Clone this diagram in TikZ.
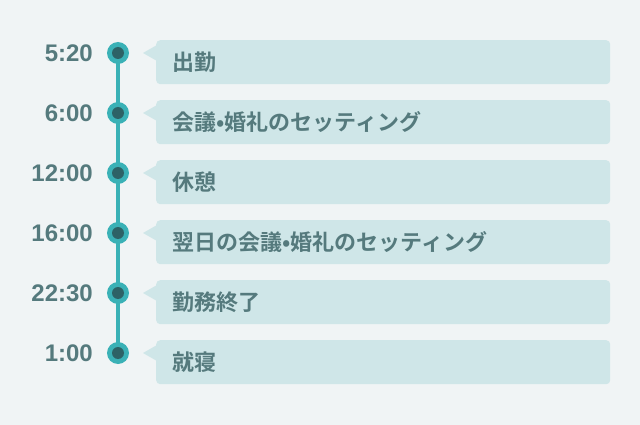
\documentclass[tikz,border=0pt]{standalone}
\usepackage{fontspec}
\setmainfont{Liberation Sans}
\newfontfamily\jpfont{Noto Sans CJK JP}[BoldFont={* Bold}]
\definecolor{bgc}{HTML}{F0F4F5}
\definecolor{boxc}{HTML}{CFE6E8}
\definecolor{txtc}{HTML}{557A7D}
\definecolor{tealc}{HTML}{3AB1B6}
\definecolor{darkc}{HTML}{2D6266}
\begin{document}
\begin{tikzpicture}[x=1pt,y=-1pt,
  timelbl/.style={anchor=east,font=\fontsize{24}{24}\selectfont\bfseries,text=txtc,inner sep=0pt},
  itembox/.style={fill=boxc,rounded corners=4pt,minimum width=454pt,minimum height=44pt,anchor=north west,inner sep=0pt},
  itemtxt/.style={anchor=west,font=\jpfont\fontsize{22}{22}\selectfont\bfseries,text=txtc,inner sep=0pt},
  dotouter/.style={circle,fill=tealc,minimum size=22pt,inner sep=0pt},
  dotinner/.style={circle,fill=darkc,minimum size=12pt,inner sep=0pt}]
\fill[bgc] (0,0) rectangle (640,425);
\useasboundingbox (0,0) rectangle (640,425);
\coordinate (ltop) at (118,53);
\coordinate (lbot) at (118,353);
\draw[tealc,line width=4.5pt] (ltop) -- (lbot);
\foreach \i/\t/\s in {0/5:20/出勤,1/6:00/会議•婚礼のセッティング,2/12:00/休憩,3/16:00/翌日の会議•婚礼のセッティング,4/22:30/勤務終了,5/1:00/就寝}{
  \pgfmathsetmacro{\yy}{53+60*\i}
  \node[dotouter] (do\i) at (118,\yy) {};
  \node[dotinner] (di\i) at (do\i) {};
  \node[timelbl] (t\i) at (93,\yy) {\t};
  \node[itembox] (b\i) at (156,\yy-13) {};
  \fill[boxc] (157,\yy-8) -- (143,\yy) -- (157,\yy+8) -- cycle;
  \node[itemtxt] (s\i) at ([xshift=16pt]b\i.west) {\s};
}
\end{tikzpicture}
\end{document}
